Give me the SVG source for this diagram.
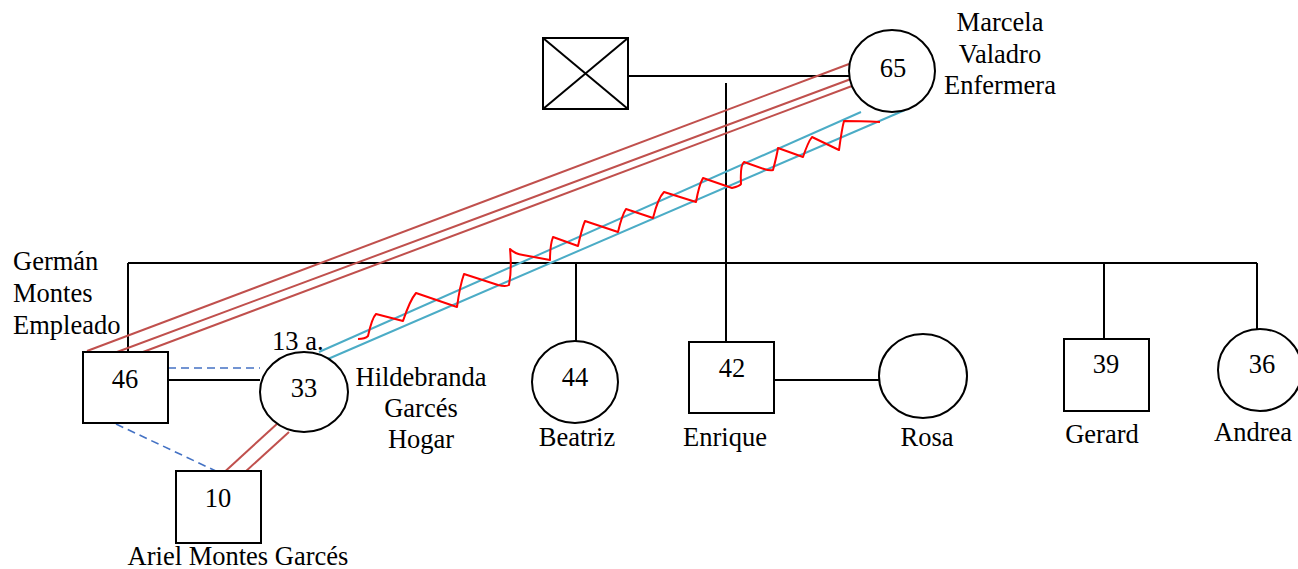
<svg xmlns="http://www.w3.org/2000/svg" width="1298" height="569" viewBox="0 0 1298 569">
<style>
.s{fill:#fff;stroke:#000;stroke-width:2}
.k{stroke:#000;stroke-width:2;fill:none}
.r{stroke:#C0504D;stroke-width:2;fill:none}
.b{stroke:#4BACC6;stroke-width:2;fill:none}
.d{stroke:#4472C4;stroke-width:1.6;stroke-dasharray:8 5;fill:none}
.z{stroke:#FF0000;stroke-width:2;fill:none;stroke-linejoin:round}
text{font-family:"Liberation Serif","Times New Roman",serif;font-size:26.5px;fill:#000}
.m{text-anchor:middle}
</style>
<rect width="1298" height="569" fill="#fff"/>
<g id="connectors">
<line class="k" x1="628" y1="76" x2="850" y2="76"/>
<line class="k" x1="726" y1="83" x2="726" y2="342"/>
<line class="k" x1="128" y1="263" x2="1257" y2="263"/>
<line class="k" x1="128" y1="263" x2="128" y2="352"/>
<line class="k" x1="576" y1="263" x2="576" y2="342"/>
<line class="k" x1="1104" y1="263" x2="1104" y2="339"/>
<line class="k" x1="1257" y1="263" x2="1257" y2="329"/>
<line class="k" x1="168" y1="380" x2="260" y2="380"/>
<line class="k" x1="774" y1="380" x2="880" y2="380"/>
<line class="d" x1="168" y1="368" x2="260" y2="368"/>
<line class="d" x1="116" y1="424" x2="218" y2="472"/>
<line class="r" x1="87" y1="351" x2="849" y2="64"/>
<line class="r" x1="117" y1="352" x2="851" y2="79"/>
<line class="r" x1="143" y1="352" x2="860" y2="83"/>
<line class="r" x1="278" y1="423" x2="219" y2="477"/>
<line class="r" x1="289" y1="432" x2="245" y2="472"/>
<line class="b" x1="319" y1="352" x2="861" y2="112"/>
<line class="b" x1="321" y1="362" x2="905" y2="110"/>
<path class="z" d="M358,339 Q365,339 368,336 Q372,318 376,314 L403,321 Q410,300 416,293 L457,307 Q460,285 464,274 L498,285 Q506,287 509,285 Q512,270 510,249 Q515,254 523,255 L550,260 Q550,245 553,237 L578,246 Q582,228 585,221 L618,232 Q622,215 626,209 L653,218 Q658,198 664,192 L696,202 Q699,185 703,178 L732,188 Q740,186 741,184 Q740,165 744,162 L764,169 Q770,171 773,170 Q777,155 778,148 L803,157 Q808,142 812,137 L839,150 Q842,128 844,121 Q860,121 880,122"/>
</g>
<g id="n_father">
<rect class="s" x="543" y="38" width="85" height="71"/>
<line class="k" x1="543" y1="38" x2="628" y2="109"/>
<line class="k" x1="628" y1="38" x2="543" y2="109"/>
</g>
<g id="n_marcela">
<ellipse class="s" cx="892" cy="71" rx="43" ry="41"/>
<text class="m" x="893" y="77">65</text>
<text class="m" x="1000" y="31">Marcela</text>
<text class="m" x="1000" y="63">Valadro</text>
<text class="m" x="1000" y="94">Enfermera</text>
</g>
<g id="n_german">
<rect class="s" x="83" y="352" width="85" height="71"/>
<text class="m" x="125" y="388">46</text>
<text x="13" y="270">Germán</text>
<text x="13" y="302">Montes</text>
<text x="13" y="334">Empleado</text>
</g>
<g id="n_hildebranda">
<ellipse class="s" cx="304" cy="392" rx="44" ry="40"/>
<text class="m" x="304" y="397">33</text>
<text x="272" y="350">13 a.</text>
<text class="m" x="421" y="386">Hildebranda</text>
<text class="m" x="421" y="417">Garcés</text>
<text class="m" x="421" y="448">Hogar</text>
</g>
<g id="n_ariel">
<rect class="s" x="176" y="471" width="85" height="72"/>
<text class="m" x="218" y="507">10</text>
<text class="m" x="238" y="565">Ariel Montes Garcés</text>
</g>
<g id="n_beatriz">
<ellipse class="s" cx="575" cy="382" rx="43" ry="41"/>
<text class="m" x="575" y="386">44</text>
<text class="m" x="577" y="446">Beatriz</text>
</g>
<g id="n_enrique">
<rect class="s" x="689" y="342" width="85" height="71"/>
<text class="m" x="732" y="377">42</text>
<text class="m" x="725" y="446">Enrique</text>
</g>
<g id="n_rosa">
<ellipse class="s" cx="923" cy="376" rx="44" ry="42"/>
<text class="m" x="927" y="446">Rosa</text>
</g>
<g id="n_gerard">
<rect class="s" x="1064" y="339" width="85" height="72"/>
<text class="m" x="1106" y="373">39</text>
<text class="m" x="1102" y="443">Gerard</text>
</g>
<g id="n_andrea">
<ellipse class="s" cx="1260" cy="370" rx="42" ry="41"/>
<text class="m" x="1262" y="373">36</text>
<text class="m" x="1253" y="441">Andrea</text>
</g>
</svg>
